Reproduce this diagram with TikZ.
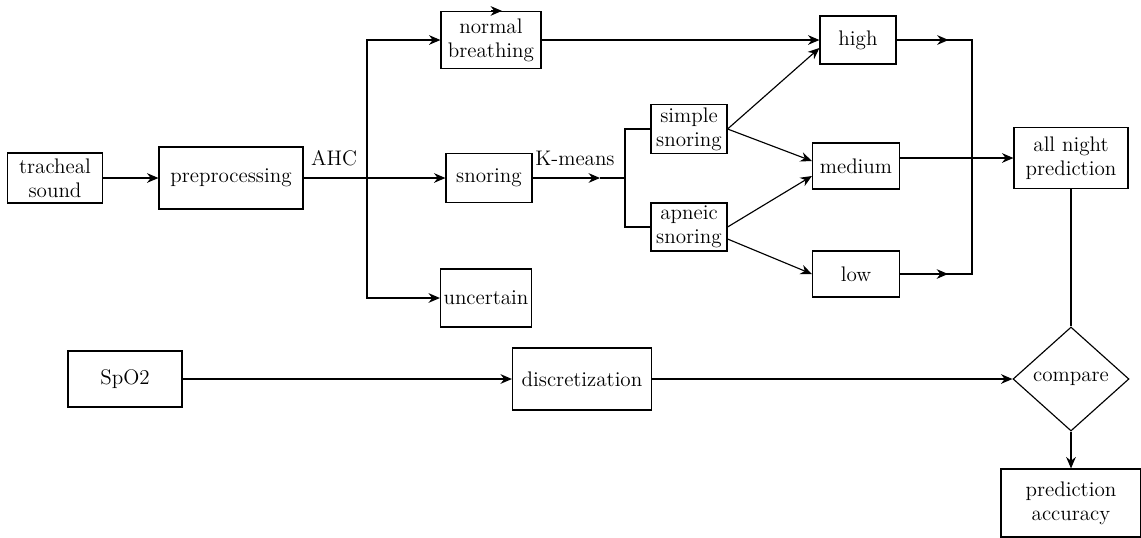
\documentclass[tikz,border=0pt]{standalone}
\usetikzlibrary{shapes.geometric,arrows.meta}
\tikzset{box/.style={draw, align=center, inner sep=1pt},
sz/.style 2 args={minimum width=#1*0.2mm, minimum height=#2*0.2mm},
arr/.style={-{Stealth[length=6.5pt,width=5.5pt]}}}

\begin{document}
\begin{tikzpicture}[x=0.2mm,y=-0.2mm,line width=0.65pt,font=\fontsize{12}{13.5}\selectfont]
\useasboundingbox (0,0) rectangle (1141,537);

% sound branch
\node[box, sz={95}{50}] (trach) at (55,178) {tracheal\\sound};
\node[box, sz={144}{62}] (prep) at (231,178) {preprocessing};
\node[box, sz={100}{57}] (norm) at (491,40) {normal\\breathing};
\node[box, sz={86}{49}] (snor) at (489,178) {snoring};
\node[box, sz={91}{58}] (unc) at (486,298) {uncertain};
\node[box, sz={76}{49}] (simp) at (689,129) {simple\\snoring};
\node[box, sz={76}{48}] (apn) at (689,227) {apneic\\snoring};
\node[box, sz={76}{48}] (high) at (858,40) {high};
\node[box, sz={87}{46}] (med) at (856,166) {medium};
\node[box, sz={87}{46}] (low) at (856,274) {low};
\node[box, sz={114}{61}] (alln) at (1071,158) {all night\\prediction};

% SpO2 branch
\node[box, sz={114}{56}] (spo) at (125,379) {SpO2};
\node[box, sz={139}{62}] (disc) at (582,379) {discretization};
\node[draw, diamond, aspect=1.1, inner sep=0pt, sz={116}{104}] (cmp) at (1071,379) {compare};
\node[box, sz={140}{68}] (acc) at (1071,503) {prediction\\accuracy};

\node (ahclab) at (334,158) {AHC};
\node (kmlab) at (575,158) {K-means};

\coordinate (ahc) at (367,178);
\coordinate (km) at (600,178);
\coordinate (split) at (625,178);
\coordinate (hiend) at (972,40);
\coordinate (loend) at (972,274);

\draw[arr] (trach) -- (prep);
\draw (prep) -- (ahc);
\draw[arr] (ahc) |- (norm);
\draw[arr] (ahc) -- (snor);
\draw[arr] (ahc) |- (unc);
\draw[arr] (norm.north) -- ++(11,0);

\draw[arr] (snor) -- (km);
\draw (km) -- (split);
\draw (split) |- (simp);
\draw (split) |- (apn);

\draw[arr] (norm) -- (high);
\draw[arr] (simp.east) -- ([yshift=-1.6mm]high.west);
\draw[arr] (simp.east) -- ([yshift=1mm]med.west);
\draw[arr] (apn.east) -- ([yshift=-2mm]med.west);
\draw[arr] ([yshift=-2.4mm]apn.east) -- (low.west);

\draw (high.east) -- (hiend) -- (loend) -- (low.east);
\draw[arr] (high.east) -- ++(52,0);
\draw[arr] (low.east) -- ++(48,0);
\draw[arr] (med.east |- alln.west) -- (alln.west);

\draw (alln) -- (cmp);
\draw[arr] (cmp) -- (acc);
\draw[arr] (spo) -- (disc);
\draw[arr] (disc) -- (cmp);

\end{tikzpicture}
\end{document}
